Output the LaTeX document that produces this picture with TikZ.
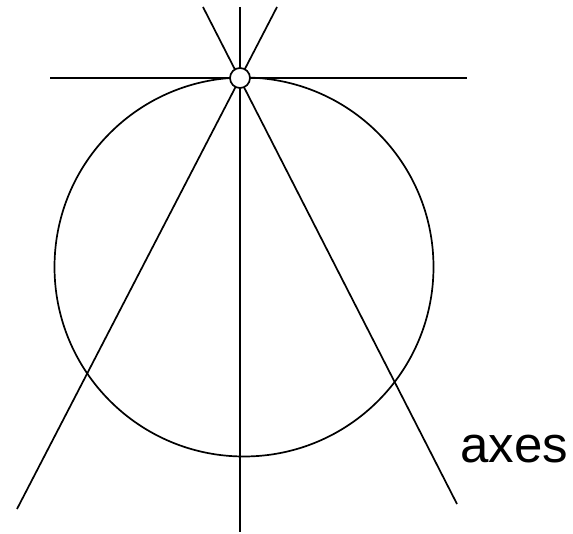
\documentclass[tikz,border=0pt]{standalone}
\usepackage{fontspec}
\setsansfont{Liberation Sans}
\usetikzlibrary{positioning}

\begin{document}
\begin{tikzpicture}[x=1pt,y=-1pt,
  axis/.style={black,line width=1.7pt},
  ring/.style={black,line width=1.7pt},
  hub/.style={circle,draw=black,fill=white,line width=1.7pt,minimum size=20pt,inner sep=0pt},
  tag/.style={font=\sffamily\fontsize{51}{60}\selectfont,anchor=base west,inner sep=0pt}]

\useasboundingbox (0,0) rectangle (573,534);

% end points of the axes
\coordinate (ctr) at (244,267);
\coordinate (hl) at (50,78);
\coordinate (hr) at (467,78);
\coordinate (vt) at (240,7);
\coordinate (vb) at (240,532);
\coordinate (rt) at (203,7);
\coordinate (rb) at (457,504);
\coordinate (lt) at (277,7);
\coordinate (lb) at (17,509);

% the big circle
\draw[ring] (ctr) circle (189.5);

\draw[axis] (hl)--(hr);
\draw[axis] (vt)--(vb);
\draw[axis] (rt)--(rb);
\draw[axis] (lt)--(lb);

% pivot on top
\node[hub] (pivot) at (240,78) {};

\node[tag] (axes) at (460,462) {axes};
\end{tikzpicture}
\end{document}
